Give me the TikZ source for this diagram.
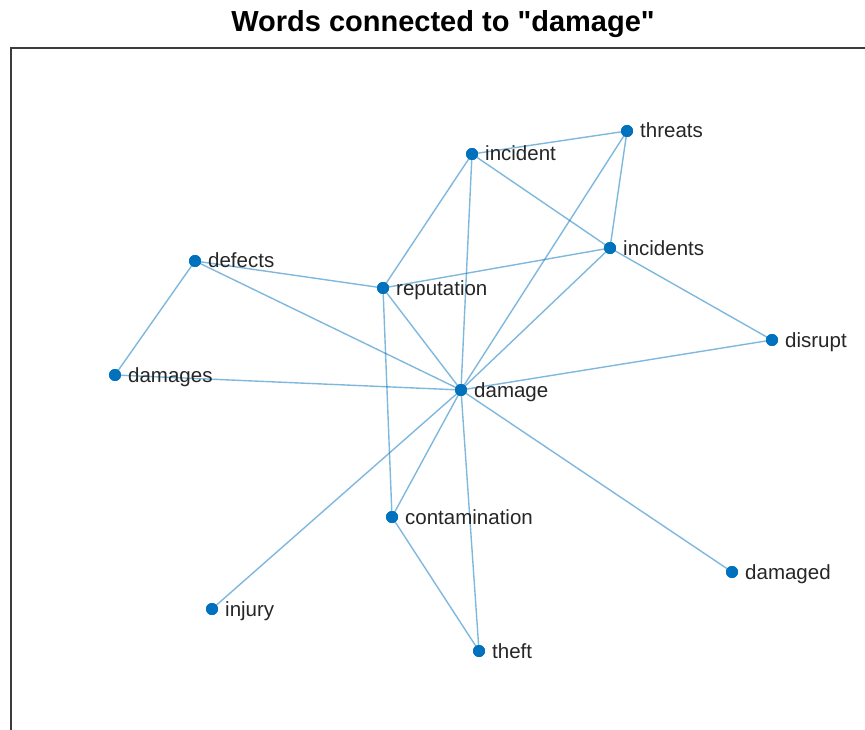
\documentclass[tikz,border=0pt]{standalone}
\usepackage{fontspec}
\setmainfont{Liberation Sans}[Ligatures=TeXOff]
\definecolor{mblue}{HTML}{0072BD}
\definecolor{axgray}{HTML}{262626}
\begin{document}
\begin{tikzpicture}[x=1pt,y=-1pt,
  dot/.style={circle,fill=mblue,inner sep=0pt,minimum size=12pt},
  edge/.style={draw=mblue,draw opacity=0.5,line width=1.4pt},
  lbl/.style={anchor=base west,inner sep=0pt,text=axgray,font=\fontsize{20.5}{24}\selectfont},
  ttl/.style={anchor=base,inner sep=0pt,text=black,font=\fontsize{29}{34}\selectfont\bfseries}]
\useasboundingbox (0,0) rectangle (865,730);
\fill[white] (0,0) rectangle (865,730);
\draw[axgray!90,line width=1.5pt] (11,731) -- (11,48) -- (866,48);
\node[ttl] (title) at (443,32) {Words connected to "damage"};
% nodes
\node[dot] (threats) at (627,131) {};
\node[dot] (incident) at (472,154) {};
\node[dot] (incidents) at (610,248) {};
\node[dot] (defects) at (195,261) {};
\node[dot] (reputation) at (383,288) {};
\node[dot] (disrupt) at (772,340) {};
\node[dot] (damages) at (115,375) {};
\node[dot] (damage) at (461,390) {};
\node[dot] (contamination) at (392,517) {};
\node[dot] (damaged) at (732,572) {};
\node[dot] (injury) at (212,609) {};
\node[dot] (theft) at (479,651) {};
% edges
\foreach \a/\b in {damage/defects,damage/damages,damage/reputation,damage/incident,
  damage/threats,damage/incidents,damage/disrupt,damage/contamination,damage/injury,
  damage/theft,damage/damaged,defects/damages,defects/reputation,reputation/incident,
  reputation/incidents,reputation/contamination,incident/threats,incident/incidents,
  threats/incidents,incidents/disrupt,contamination/theft}
  \draw[edge] (\a.center) -- (\b.center);
% redraw dots on top
\foreach \n in {threats,incident,incidents,defects,reputation,disrupt,damages,damage,contamination,damaged,injury,theft}
  \fill[mblue] (\n.center) circle (6pt);
% labels
\node[lbl] (Lthreats) at ([xshift=13pt,yshift=-7pt]threats.center) {threats};
\node[lbl] (Lincident) at ([xshift=13pt,yshift=-7pt]incident.center) {incident};
\node[lbl] (Lincidents) at ([xshift=13pt,yshift=-7pt]incidents.center) {incidents};
\node[lbl] (Ldefects) at ([xshift=13pt,yshift=-7pt]defects.center) {defects};
\node[lbl] (Lreputation) at ([xshift=13pt,yshift=-7pt]reputation.center) {reputation};
\node[lbl] (Ldisrupt) at ([xshift=13pt,yshift=-7pt]disrupt.center) {disrupt};
\node[lbl] (Ldamages) at ([xshift=13pt,yshift=-7pt]damages.center) {damages};
\node[lbl] (Ldamage) at ([xshift=13pt,yshift=-7pt]damage.center) {damage};
\node[lbl] (Lcontamination) at ([xshift=13pt,yshift=-7pt]contamination.center) {contamination};
\node[lbl] (Ldamaged) at ([xshift=13pt,yshift=-7pt]damaged.center) {damaged};
\node[lbl] (Linjury) at ([xshift=13pt,yshift=-7pt]injury.center) {injury};
\node[lbl] (Ltheft) at ([xshift=13pt,yshift=-7pt]theft.center) {theft};
\end{tikzpicture}
\end{document}
